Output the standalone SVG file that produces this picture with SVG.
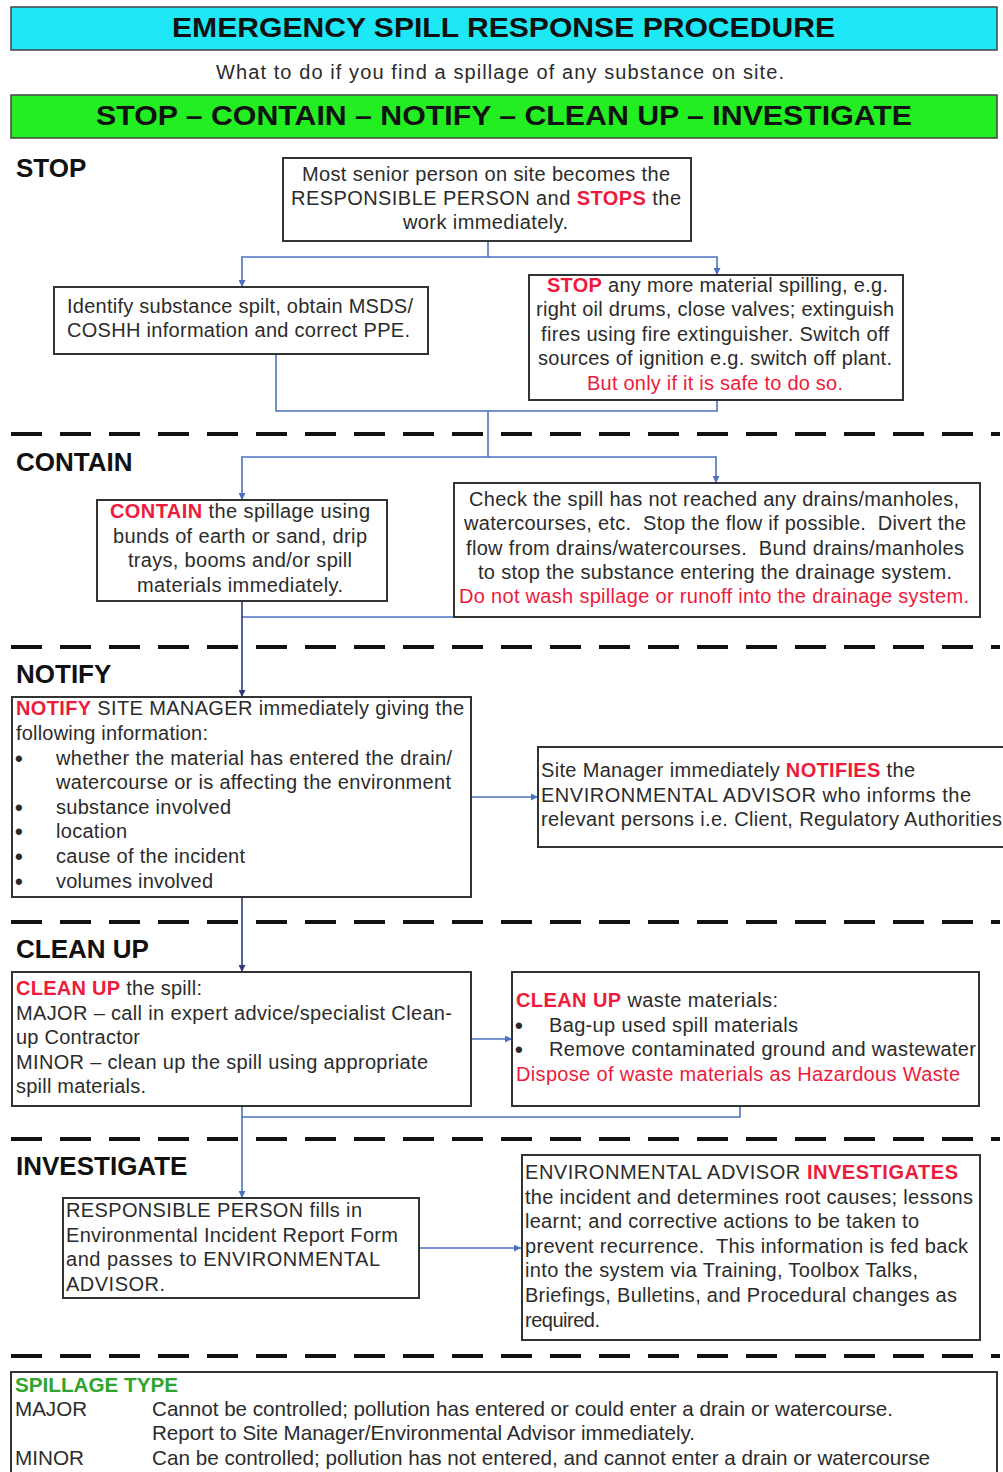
<svg xmlns="http://www.w3.org/2000/svg" width="1003" height="1472" viewBox="0 0 1003 1472">
<style>
text{font-family:"Liberation Sans",Arial,sans-serif;fill:#2b2b2b}
.t{font-size:20px}
.r{fill:#ee1a3c}
.b{font-weight:bold}
.sec{font-size:26px;font-weight:bold;fill:#111}
.bar{font-size:28px;font-weight:bold;fill:#111}
.box{fill:#fff;stroke:#333;stroke-width:2}
.dash{stroke:#111;stroke-width:4;stroke-dasharray:31 18;fill:none}
.c{fill:none;stroke:#4a72c0;stroke-width:1.6}
.cd{fill:none;stroke:#2e3a7e;stroke-width:1.6}
.sp{font-size:21px}
.bul{font-size:22px;font-weight:bold}
</style>
<defs>
<marker id="ah" viewBox="0 0 10 10" refX="10" refY="5" markerWidth="7" markerHeight="7" orient="auto" markerUnits="userSpaceOnUse">
<path d="M0,0 L10,5 L0,10 Z" fill="#4a72c0"/>
</marker>
<marker id="ahd" viewBox="0 0 10 10" refX="10" refY="5" markerWidth="7" markerHeight="7" orient="auto" markerUnits="userSpaceOnUse">
<path d="M0,0 L10,5 L0,10 Z" fill="#2e3a7e"/>
</marker>
</defs>
<rect width="1003" height="1472" fill="#fff"/>

<g id="header">
<rect x="11" y="7" width="986" height="43" fill="#1ee8f6" stroke="#444" stroke-width="1.5"/>
<text class="bar" x="172" y="37" textLength="663" lengthAdjust="spacingAndGlyphs">EMERGENCY SPILL RESPONSE PROCEDURE</text>
<text x="216" y="79" font-size="20" textLength="568">What to do if you find a spillage of any substance on site.</text>
<rect x="11" y="95" width="986" height="43" fill="#22ee22" stroke="#444" stroke-width="1.5"/>
<text class="bar" x="96" y="125" textLength="816" lengthAdjust="spacingAndGlyphs">STOP – CONTAIN – NOTIFY – CLEAN UP – INVESTIGATE</text>
</g>

<g id="dividers">
<line class="dash" x1="11" y1="434" x2="1000" y2="434"/>
<line class="dash" x1="11" y1="647" x2="1000" y2="647"/>
<line class="dash" x1="11" y1="922" x2="1000" y2="922"/>
<line class="dash" x1="11" y1="1139" x2="1000" y2="1139"/>
<line class="dash" x1="11" y1="1356" x2="1000" y2="1356"/>
</g>

<g id="section-labels">
<text class="sec" x="16" y="177">STOP</text>
<text class="sec" x="16" y="471">CONTAIN</text>
<text class="sec" x="16" y="683">NOTIFY</text>
<text class="sec" x="16" y="958">CLEAN UP</text>
<text class="sec" x="16" y="1175">INVESTIGATE</text>
</g>

<g id="connectors">
<path class="c" d="M488,241 V257 H242 V287" marker-end="url(#ah)"/>
<path class="c" d="M488,257 H717 V275" marker-end="url(#ah)"/>
<path class="c" d="M276,354 V411 H488"/>
<path class="c" d="M717,400 V411 H488"/>
<path class="c" d="M488,411 V457 H242 V500" marker-end="url(#ah)"/>
<path class="c" d="M488,457 H716 V483" marker-end="url(#ah)"/>
<path class="c" d="M454,617 H242"/>
<path class="cd" d="M242,601 V697" marker-end="url(#ahd)"/>
<path class="c" d="M471,797 H538" marker-end="url(#ah)"/>
<path class="cd" d="M242,897 V972" marker-end="url(#ahd)"/>
<path class="c" d="M471,1039 H512" marker-end="url(#ah)"/>
<path class="c" d="M740,1106 V1117 H242"/>
<path class="c" d="M242,1106 V1198" marker-end="url(#ah)"/>
<path class="c" d="M419,1248 H521" marker-end="url(#ah)"/>
</g>

<g id="n-responsible">
<rect class="box" x="283" y="158" width="408" height="83"/>
<text class="t" x="302" y="181" textLength="368">Most senior person on site becomes the</text>
<text class="t" x="291" y="205" textLength="390">RESPONSIBLE PERSON and <tspan class="r b">STOPS</tspan> the</text>
<text class="t" x="403" y="229" textLength="165">work immediately.</text>
</g>

<g id="n-identify">
<rect class="box" x="54" y="287" width="374" height="67"/>
<text class="t" x="67" y="313" textLength="346">Identify substance spilt, obtain MSDS/</text>
<text class="t" x="67" y="337" textLength="343">COSHH information and correct PPE.</text>
</g>

<g id="n-stop">
<rect class="box" x="529" y="275" width="374" height="125"/>
<text class="t" x="547" y="292" textLength="341"><tspan class="r b">STOP</tspan> any more material spilling, e.g.</text>
<text class="t" x="536" y="316" textLength="358">right oil drums, close valves; extinguish</text>
<text class="t" x="541" y="341" textLength="348">fires using fire extinguisher. Switch off</text>
<text class="t" x="538" y="365" textLength="354">sources of ignition e.g. switch off plant.</text>
<text class="t r" x="587" y="390" textLength="256">But only if it is safe to do so.</text>
</g>

<g id="n-contain">
<rect class="box" x="97" y="500" width="290" height="101"/>
<text class="t" x="110" y="518" textLength="260"><tspan class="r b">CONTAIN</tspan> the spillage using</text>
<text class="t" x="113" y="543" textLength="254">bunds of earth or sand, drip</text>
<text class="t" x="128" y="567" textLength="224">trays, booms and/or spill</text>
<text class="t" x="137" y="592" textLength="206">materials immediately.</text>
</g>

<g id="n-drains">
<rect class="box" x="454" y="483" width="526" height="134"/>
<text class="t" x="469" y="506" textLength="490">Check the spill has not reached any drains/manholes,</text>
<text class="t" x="464" y="530" textLength="502" xml:space="preserve">watercourses, etc.  Stop the flow if possible.  Divert the</text>
<text class="t" x="466" y="555" textLength="498" xml:space="preserve">flow from drains/watercourses.  Bund drains/manholes</text>
<text class="t" x="478" y="579" textLength="474">to stop the substance entering the drainage system.</text>
<text class="t r" x="459" y="603" textLength="510">Do not wash spillage or runoff into the drainage system.</text>
</g>

<g id="n-notify">
<rect class="box" x="12" y="697" width="459" height="200"/>
<text class="t" x="16" y="715" textLength="448"><tspan class="r b">NOTIFY</tspan> SITE MANAGER immediately giving the</text>
<text class="t" x="16" y="740" textLength="192">following information:</text>
<text class="bul" x="15" y="766">•</text>
<text class="t" x="56" y="765" textLength="396">whether the material has entered the drain/</text>
<text class="t" x="56" y="789" textLength="395">watercourse or is affecting the environment</text>
<text class="bul" x="15" y="815">•</text>
<text class="t" x="56" y="814" textLength="175">substance involved</text>
<text class="bul" x="15" y="839">•</text>
<text class="t" x="56" y="838" textLength="71">location</text>
<text class="bul" x="15" y="864">•</text>
<text class="t" x="56" y="863" textLength="189">cause of the incident</text>
<text class="bul" x="15" y="889">•</text>
<text class="t" x="56" y="888" textLength="157">volumes involved</text>
</g>

<g id="n-advisor-notified">
<rect class="box" x="538" y="747" width="480" height="100"/>
<text class="t" x="541" y="777" textLength="374">Site Manager immediately <tspan class="r b">NOTIFIES</tspan> the</text>
<text class="t" x="541" y="802" textLength="430">ENVIRONMENTAL ADVISOR who informs the</text>
<text class="t" x="541" y="826" textLength="461">relevant persons i.e. Client, Regulatory Authorities</text>
</g>

<g id="n-cleanup">
<rect class="box" x="12" y="972" width="459" height="134"/>
<text class="t" x="16" y="995" textLength="186"><tspan class="r b">CLEAN UP</tspan> the spill:</text>
<text class="t" x="16" y="1020" textLength="436">MAJOR – call in expert advice/specialist Clean-</text>
<text class="t" x="16" y="1044" textLength="124">up Contractor</text>
<text class="t" x="16" y="1069" textLength="412">MINOR – clean up the spill using appropriate</text>
<text class="t" x="16" y="1093" textLength="130">spill materials.</text>
</g>

<g id="n-waste">
<rect class="box" x="512" y="972" width="467" height="134"/>
<text class="t" x="516" y="1007" textLength="262"><tspan class="r b">CLEAN UP</tspan> waste materials:</text>
<text class="bul" x="515" y="1033">•</text>
<text class="t" x="549" y="1032" textLength="249">Bag-up used spill materials</text>
<text class="bul" x="515" y="1057">•</text>
<text class="t" x="549" y="1056" textLength="427">Remove contaminated ground and wastewater</text>
<text class="t r" x="516" y="1081" textLength="444">Dispose of waste materials as Hazardous Waste</text>
</g>

<g id="n-report">
<rect class="box" x="63" y="1198" width="356" height="100"/>
<text class="t" x="66" y="1217" textLength="296">RESPONSIBLE PERSON fills in</text>
<text class="t" x="66" y="1242" textLength="332">Environmental Incident Report Form</text>
<text class="t" x="66" y="1266" textLength="314">and passes to ENVIRONMENTAL</text>
<text class="t" x="66" y="1291" textLength="99">ADVISOR.</text>
</g>

<g id="n-investigates">
<rect class="box" x="522" y="1155" width="458" height="185"/>
<text class="t" x="525" y="1179" textLength="433">ENVIRONMENTAL ADVISOR <tspan class="r b">INVESTIGATES</tspan></text>
<text class="t" x="525" y="1204" textLength="448">the incident and determines root causes; lessons</text>
<text class="t" x="525" y="1228" textLength="394">learnt; and corrective actions to be taken to</text>
<text class="t" x="525" y="1253" textLength="443" xml:space="preserve">prevent recurrence.  This information is fed back</text>
<text class="t" x="525" y="1277" textLength="393">into the system via Training, Toolbox Talks,</text>
<text class="t" x="525" y="1302" textLength="432">Briefings, Bulletins, and Procedural changes as</text>
<text class="t" x="525" y="1327" textLength="75">required.</text>
</g>

<g id="n-spillage-type">
<rect class="box" x="11" y="1372" width="986" height="115"/>
<text class="sp b" x="15" y="1392" style="fill:#2fa52f" textLength="163" lengthAdjust="spacingAndGlyphs">SPILLAGE TYPE</text>
<text class="sp" x="15" y="1416" textLength="72" lengthAdjust="spacingAndGlyphs">MAJOR</text>
<text class="sp" x="152" y="1416" textLength="741" lengthAdjust="spacingAndGlyphs">Cannot be controlled; pollution has entered or could enter a drain or watercourse.</text>
<text class="sp" x="152" y="1440" textLength="543" lengthAdjust="spacingAndGlyphs">Report to Site Manager/Environmental Advisor immediately.</text>
<text class="sp" x="15" y="1465" textLength="69" lengthAdjust="spacingAndGlyphs">MINOR</text>
<text class="sp" x="152" y="1465" textLength="778" lengthAdjust="spacingAndGlyphs">Can be controlled; pollution has not entered, and cannot enter a drain or watercourse</text>
</g>
</svg>
